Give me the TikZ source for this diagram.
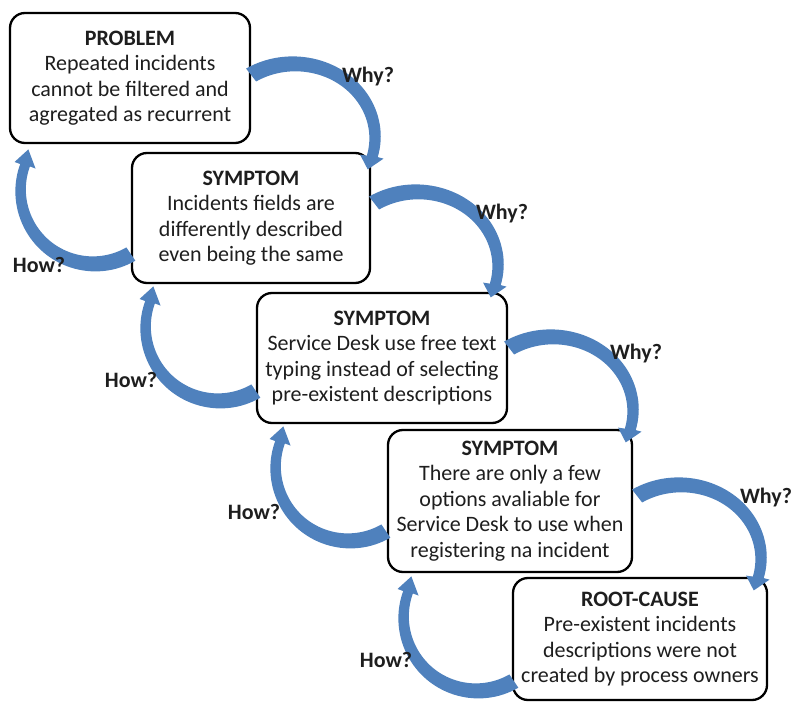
\documentclass[tikz,border=0pt]{standalone}
\usepackage{fontspec}
\setmainfont{Carlito}

\definecolor{flecheb}{RGB}{79,129,189}
\definecolor{texteg}{RGB}{30,30,30}
\newcommand{\boitefont}{\fontsize{22}{25.5}\selectfont}

\tikzset{
	boite/.style={draw=black, line width=2.3pt, rounded corners=15pt, fill=white, align=center, inner sep=0pt, font=\boitefont, text=texteg},
	question/.style={font=\boitefont\bfseries, text=texteg},
	% fleche courbe vers le bas (pourquoi)
	pourquoi/.pic={
		\fill[flecheb] (238:88 and 80) arc[start angle=238, end angle=375, x radius=88, y radius=80]
			-- (15:94 and 86) -- (75,33) -- ([shift={(2.6,1.9)}]15:67 and 63)
			-- ([shift={(2.6,1.9)}]15:74 and 67) arc[start angle=375, end angle=238, x radius=74, y radius=67] -- cycle;
	},
	% fleche courbe vers le haut (comment)
	comment/.pic={
		\fill[flecheb] (60:80) arc[start angle=60, end angle=200, radius=80]
			-- (200:86) -- (-67,-42) -- ([shift={(-2.5,-2)}]200:61)
			-- ([shift={(-2.5,-2)}]200:67) arc[start angle=200, end angle=60, radius=67] -- cycle;
	}
}

\begin{document}
\begin{tikzpicture}[line cap=round,line join=round,x=1pt,y=-1pt]
		\useasboundingbox (0,0) rectangle (793,703);
		% boites
		\node[boite, minimum width=240pt, minimum height=130pt] (prob) at (130,78) {\textbf{PROBLEM}\\Repeated incidents\\cannot be filtered and\\agregated as recurrent};
		\node[boite, minimum width=238pt, minimum height=130pt] (symA) at (251,218) {\textbf{SYMPTOM}\\Incidents fields are\\differently described\\even being the same};
		\node[boite, minimum width=250pt, minimum height=130pt] (symB) at (382,358) {\textbf{SYMPTOM}\\Service Desk use free text\\typing instead of selecting\\pre-existent descriptions};
		\node[boite, minimum width=244pt, minimum height=142pt] (symC) at (510,501) {\textbf{SYMPTOM}\\There are only a few\\options avaliable for\\Service Desk to use when\\registering na incident};
		\node[boite, minimum width=254pt, minimum height=122pt] (root) at (640,639) {\textbf{ROOT-CAUSE}\\Pre-existent incidents\\descriptions were not\\created by process owners};
		% fleches pourquoi
		\pic at ([shift={(41.6,58.4)}]prob.east) {pourquoi};
		\pic at ([shift={(44.6,46.4)}]symA.east) {pourquoi};
		\pic at ([shift={(42.6,51.4)}]symB.east) {pourquoi};
		\pic at ([shift={(45.6,56.4)}]symC.east) {pourquoi};
		% fleches comment
		\pic at ([shift={(-35.5,-26.6)}]symA.west) {comment};
		\pic at ([shift={(-35.5,-29.6)}]symB.west) {comment};
		\pic at ([shift={(-36.5,-32.6)}]symC.west) {comment};
		\pic at ([shift={(-33.5,-20.6)}]root.west) {comment};
		% etiquettes
		\node[question] (why1) at (368,77) {Why?};
		\node[question] (why2) at (502,214) {Why?};
		\node[question] (why3) at (636,354) {Why?};
		\node[question] (why4) at (766,498) {Why?};
		\node[question] (how1) at (39,265) {How?};
		\node[question] (how2) at (131,380) {How?};
		\node[question] (how3) at (254,512) {How?};
		\node[question] (how4) at (386,660) {How?};
\end{tikzpicture}
\end{document}
